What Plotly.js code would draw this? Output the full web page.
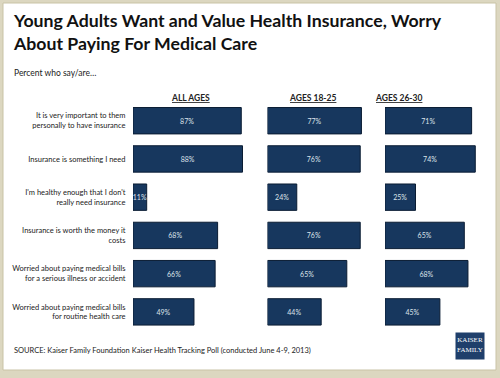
<!DOCTYPE html>
<html><head><meta charset="utf-8">
<script src="https://cdn.plot.ly/plotly-3.0.1.min.js"></script>
<style>html,body{margin:0;padding:0;background:#fff}#chart{width:500px;height:378px}</style>
</head><body><div id="chart"></div>
<script>
const categories = [
  "It is very important to them<br>personally to have insurance",
  "Insurance is something I need",
  "I'm healthy enough that I don't<br>really need insurance",
  "Insurance is worth the money it<br>costs",
  "Worried about paying medical bills<br>for a serious illness or accident",
  "Worried about paying medical bills<br>for routine health care"
];
const allAges = [87, 88, 11, 68, 66, 49];
const ages1825 = [77, 76, 24, 76, 65, 44];
const ages2630 = [71, 74, 25, 65, 68, 45];
const panelTitles = ["ALL AGES", "AGES 18-25", "AGES 26-30"];

const W = 500, H = 378;
const px = x => x / W;
const py = y => 1 - y / H;
const FONT = "Lato, 'Open Sans', sans-serif";
const barColor = "#17375e";

function barTrace(vals, xa) {
  return {
    type: "bar", orientation: "h", x: vals, y: categories,
    xaxis: xa, yaxis: "y",
    marker: {color: barColor, line: {color: "#0a1c33", width: 1}},
    width: 0.69,
    text: vals.map(v => v + "%"), textposition: "inside", textangle: 0,
    insidetextanchor: "middle", constraintext: "none",
    textfont: {family: FONT, size: 7, color: "#dde3ea"},
    hoverinfo: "none", cliponaxis: false
  };
}

const data = [barTrace(allAges, "x"), barTrace(ages1825, "x2"), barTrace(ages2630, "x3")];

const yTop = 101.6, yBot = 331;
const panels = [[133, 245], [267.5, 377.3], [385, 494.8]];
const layout = {
  width: W, height: H,
  margin: {l: 0, r: 0, t: 0, b: 0},
  paper_bgcolor: "#dcd7c0",
  plot_bgcolor: "rgba(0,0,0,0)",
  showlegend: false,
  font: {family: FONT, color: "#222"},
  yaxis: {
    domain: [py(yBot), py(yTop)], range: [5.5, -0.5],
    type: "category", showgrid: false, zeroline: false, showline: false,
    ticks: "outside", ticklen: 5, tickcolor: "rgba(0,0,0,0)",
    tickfont: {family: FONT, size: 7.5, color: "#222"}, fixedrange: true
  },
  shapes: [
    {type: "rect", xref: "paper", yref: "paper", x0: px(3), x1: px(496), y0: py(370), y1: py(3),
     fillcolor: "#ffffff", line: {color: "#c9c3a6", width: 1}, layer: "below"}
  ],
  annotations: [
    {text: "<b>Young Adults Want and Value Health Insurance, Worry<br>About Paying For Medical Care</b>",
     x: px(11), y: py(32), xref: "paper", yref: "paper", xanchor: "left", yanchor: "middle", align: "left",
     showarrow: false, font: {family: FONT, size: 17.7, color: "#111"}},
    {text: "Percent who say/are…", x: px(12), y: py(72.5), xref: "paper", yref: "paper",
     xanchor: "left", yanchor: "middle", showarrow: false, font: {family: FONT, size: 8.5, color: "#222"}},
    {text: "SOURCE: Kaiser Family Foundation Kaiser Health Tracking Poll (conducted June 4-9, 2013)",
     x: px(12), y: py(350.7), xref: "paper", yref: "paper", xanchor: "left", yanchor: "middle",
     showarrow: false, font: {family: FONT, size: 7.5, color: "#222"}},
    {text: "<span style='font-size:3.4px'>THE HENRY J.</span><br>KAISER<br>FAMILY<br><span style='font-size:3.4px'>FOUNDATION</span>",
     x: px(470.2), y: py(346.2), xref: "paper", yref: "paper", xanchor: "center", yanchor: "middle",
     showarrow: false, width: 26, height: 24, borderpad: 1, bgcolor: "#1f3f6b", align: "center",
     font: {family: "'Liberation Serif', 'DejaVu Serif', serif", size: 7, color: "#ffffff"}}
  ]
};

const headerX = [190.7, 312.7, 424];
const xRanges = [[0, 90], [0, 90], [0, 90]];
["xaxis", "xaxis2", "xaxis3"].forEach((k, i) => {
  layout[k] = {domain: [px(panels[i][0]), px(panels[i][1])], range: xRanges[i],
    anchor: "y", visible: false, fixedrange: true};
  layout.annotations.push({text: "<b><u>" + panelTitles[i] + "</u></b>", x: px(headerX[i]), y: py(91),
    xref: "paper", yref: "paper", showarrow: false, font: {family: FONT, size: 8.5, color: "#222"}});
});

Plotly.newPlot("chart", data, layout, {displayModeBar: false, staticPlot: true});
</script></body></html>
